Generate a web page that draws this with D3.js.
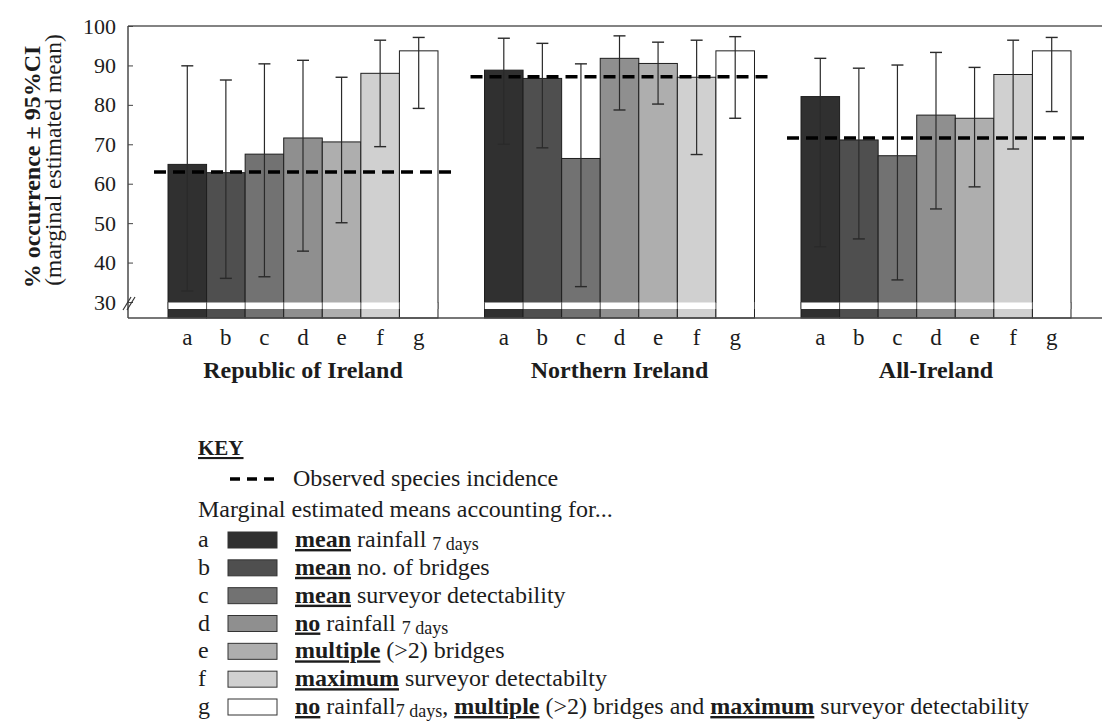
<!DOCTYPE html>
<html>
<head>
<meta charset="utf-8">
<script src="https://cdn.jsdelivr.net/npm/d3@7"></script>
<style>
  body { margin: 0; background: #fff; }
</style>
</head>
<body>
<div id="chart"></div>
<script>
// marginal estimated means of species occurrence, by region and scenario

// data
const groups = ["Republic of Ireland", "Northern Ireland", "All-Ireland"];
const scenarios = ["a", "b", "c", "d", "e", "f", "g"];

// marginal estimated means (%), one row per region
const means = [
	[64.9, 62.8, 67.5, 71.6, 70.6, 88.0, 93.7],
	[88.8, 86.7, 66.4, 91.8, 90.5, 87.0, 93.7],
	[82.1, 71.1, 67.1, 77.4, 76.6, 87.7, 93.7]
];

// lower and upper 95% CI
const lower = [
	[32.8, 36.0, 36.4, 42.9, 50.1, 69.4, 79.1],
	[70.0, 69.1, 33.9, 78.7, 80.2, 67.4, 76.6],
	[44.0, 46.0, 35.6, 53.6, 59.2, 68.8, 78.3]
];
const upper = [
	[89.9, 86.3, 90.4, 91.3, 87.0, 96.4, 97.1],
	[96.9, 95.6, 90.4, 97.5, 95.9, 96.4, 97.3],
	[91.8, 89.3, 90.1, 93.3, 89.5, 96.4, 97.1]
];

// observed species incidence (%), one per region
const observed = [63.0, 87.1, 71.6];

const yTicks = [30, 40, 50, 60, 70, 80, 90, 100];

// legend texts: [text, bold+underlined, subscript]
const legendRows = [
	[["mean", 1], [" rainfall "], ["7 days", 0, 1]],
	[["mean", 1], [" no. of bridges"]],
	[["mean", 1], [" surveyor detectability"]],
	[["no", 1], [" rainfall "], ["7 days", 0, 1]],
	[["multiple", 1], [" (>2) bridges"]],
	[["maximum", 1], [" surveyor detectabilty"]],
	[["no", 1], [" rainfall"], ["7 days", 0, 1], [", "], ["multiple", 1], [" (>2) bridges and "], ["maximum", 1], [" surveyor detectability"]]
];

// styles
const w = 1102, h = 722;
const fontFamily = '"Liberation Serif", "Times New Roman", serif';
const textFill = "#1c1c1c";
const greys = ["#303030", "#4f4f4f", "#727272", "#8f8f8f", "#aeaeae", "#d0d0d0", "#ffffff"];

const plot = {left: 128, right: 1102, top: 26, bottom: 318};

const color = d3.scaleOrdinal().domain(scenarios).range(greys);

// scales
const yScale = d3.scaleLinear()
		.domain([30, 100])
		.range([302, plot.top]);

const x0 = d3.scaleBand()
		.domain(groups)
		.range([144.75, 1094.25])
		.paddingInner(0.147)
		.paddingOuter(0.0735);

const x1 = d3.scaleBand()
		.domain(scenarios)
		.range([0, x0.bandwidth()]);

const svg = d3.select("#chart")
			.append("svg")
			.attr("width", w)
			.attr("height", h)
			.style("font-family", fontFamily);

// frame line on top
svg.append("line")
	.attr("x1", plot.left).attr("x2", plot.right)
	.attr("y1", plot.top).attr("y2", plot.top)
	.attr("stroke", "#5a5a5a")
	.attr("stroke-width", 1.5);

// one group per region
groups.forEach(function(gName, i) {

	const rows = scenarios.map((s, j) => ({s: s, v: means[i][j], lo: lower[i][j], hi: upper[i][j]}));

	const g = svg.append("g")
		.attr("transform", `translate(${x0(gName)},0)`);

	// bars, running down past the axis break
	g.selectAll("rect.bar")
		.data(rows)
		.join("rect")
			.attr("class", "bar")
			.attr("x", d => x1(d.s))
			.attr("y", d => yScale(d.v))
			.attr("width", x1.bandwidth())
			.attr("height", d => plot.bottom - yScale(d.v))
			.attr("fill", d => color(d.s))
			.attr("stroke", "#1e1e1e")
			.attr("stroke-width", 1);

	// white band for the axis break
	g.append("rect")
		.attr("x", 0)
		.attr("y", yScale(30) + 0.5)
		.attr("width", x0.bandwidth())
		.attr("height", 6.5)
		.attr("fill", "white");

	// bar edges showing through the break
	g.selectAll("line.edge")
		.data(scenarios.concat(["end"]))
		.join("line")
			.attr("class", "edge")
			.attr("x1", d => d === "end" ? x0.bandwidth() : x1(d))
			.attr("x2", d => d === "end" ? x0.bandwidth() : x1(d))
			.attr("y1", yScale(30))
			.attr("y2", yScale(30) + 7)
			.attr("stroke", "#555")
			.attr("stroke-width", 1);

	// observed incidence (dashed)
	g.append("line")
		.attr("x1", -14)
		.attr("x2", x0.bandwidth() + 16)
		.attr("y1", yScale(observed[i]))
		.attr("y2", yScale(observed[i]))
		.attr("stroke", "black")
		.attr("stroke-width", 3.5)
		.attr("stroke-dasharray", "12,7");

	// error bars
	const err = g.selectAll("g.err")
		.data(rows)
		.join("g")
			.attr("class", "err")
			.attr("transform", d => `translate(${x1(d.s) + x1.bandwidth()/2},0)`);

	err.append("line")
		.attr("y1", d => yScale(d.lo))
		.attr("y2", d => yScale(d.hi))
		.attr("stroke", "#2a2a2a")
		.attr("stroke-width", 1.2);

	err.selectAll("line.cap")
		.data(d => [d.lo, d.hi])
		.join("line")
			.attr("class", "cap")
			.attr("x1", -6).attr("x2", 6)
			.attr("y1", d => yScale(d))
			.attr("y2", d => yScale(d))
			.attr("stroke", "#2a2a2a")
			.attr("stroke-width", 1.4);

	// scenario letters
	g.append("g")
		.attr("transform", `translate(0,${plot.bottom})`)
		.call(d3.axisBottom(x1).tickSize(0).tickPadding(11))
		.call(a => a.select(".domain").remove())
		.call(a => a.selectAll(".tick text")
			.attr("font-size", 23)
			.attr("font-family", fontFamily)
			.attr("fill", textFill));

	// region name
	g.append("text")
		.attr("x", x0.bandwidth()/2)
		.attr("y", 378)
		.attr("text-anchor", "middle")
		.style("font-size", "24px")
		.style("font-weight", "bold")
		.style("fill", textFill)
		.text(gName);
});

// bottom axis line
svg.append("line")
	.attr("x1", plot.left).attr("x2", plot.right)
	.attr("y1", plot.bottom).attr("y2", plot.bottom)
	.attr("stroke", "#4a4a4a")
	.attr("stroke-width", 1.5);

// left axis
svg.append("line")
	.attr("x1", plot.left).attr("x2", plot.left)
	.attr("y1", plot.top).attr("y2", plot.bottom)
	.attr("stroke", "#4a4a4a")
	.attr("stroke-width", 1.5);

svg.append("g")
	.attr("transform", `translate(${plot.left},0)`)
	.call(d3.axisLeft(yScale).tickValues(yTicks).tickSize(-5).tickPadding(12))
	.call(a => a.select(".domain").remove())
	.call(a => a.selectAll(".tick line").attr("stroke", "#444"))
	.call(a => a.selectAll(".tick text")
		.attr("font-size", 22)
		.attr("font-family", fontFamily)
		.attr("fill", textFill));

// break marks on the y axis
svg.append("g")
	.selectAll("line")
	.data([0, 4])
	.join("line")
		.attr("x1", d => 123 + d).attr("y1", 310)
		.attr("x2", d => 131 + d).attr("y2", 297)
		.attr("stroke", "#333")
		.attr("stroke-width", 1.2);

// y axis title
svg.append("text")
	.attr("transform", "translate(40,167) rotate(-90)")
	.attr("text-anchor", "middle")
	.style("font-size", "24px")
	.style("font-weight", "bold")
	.style("fill", textFill)
	.text("% occurrence ± 95%CI");

svg.append("text")
	.attr("transform", "translate(61,160) rotate(-90)")
	.attr("text-anchor", "middle")
	.style("font-size", "23.5px")
	.style("fill", textFill)
	.text("(marginal estimated mean)");

// legend
const key = svg.append("g").style("fill", textFill);

key.append("text")
	.attr("x", 198).attr("y", 455)
	.style("font-size", "21px")
	.style("font-weight", "bold")
	.style("text-decoration", "underline")
	.text("KEY");

key.append("line")
	.attr("x1", 230).attr("x2", 277)
	.attr("y1", 479).attr("y2", 479)
	.attr("stroke", "black")
	.attr("stroke-width", 3.5)
	.attr("stroke-dasharray", "10,7");

key.append("text")
	.attr("x", 293).attr("y", 486)
	.style("font-size", "24px")
	.text("Observed species incidence");

key.append("text")
	.attr("x", 198).attr("y", 517)
	.style("font-size", "24px")
	.text("Marginal estimated means accounting for...");

const rowY = d3.scalePoint().domain(scenarios).range([540, 707]);

const row = key.selectAll("g.row")
	.data(scenarios)
	.join("g")
		.attr("class", "row")
		.attr("transform", d => `translate(0,${rowY(d)})`);

row.append("text")
	.attr("x", 198).attr("y", 7)
	.style("font-size", "24px")
	.text(d => d);

row.append("rect")
	.attr("x", 228).attr("y", -8)
	.attr("width", 49).attr("height", 16)
	.attr("fill", d => color(d))
	.attr("stroke", "#333")
	.attr("stroke-width", 1);

row.append("text")
	.attr("x", 295).attr("y", 7)
	.style("font-size", "24px")
	.each(function(d, i) {
		const t = d3.select(this);
		let shifted = false;
		legendRows[i].forEach(function(p) {
			const span = t.append("tspan").text(p[0]);
			if (p[1]) span.style("font-weight", "bold").style("text-decoration", "underline");
			if (p[2]) {
				span.style("font-size", "18px").attr("dy", 3);
				shifted = true;
			} else if (shifted) {
				span.attr("dy", -3);
				shifted = false;
			}
		});
	});
</script>
</body>
</html>
